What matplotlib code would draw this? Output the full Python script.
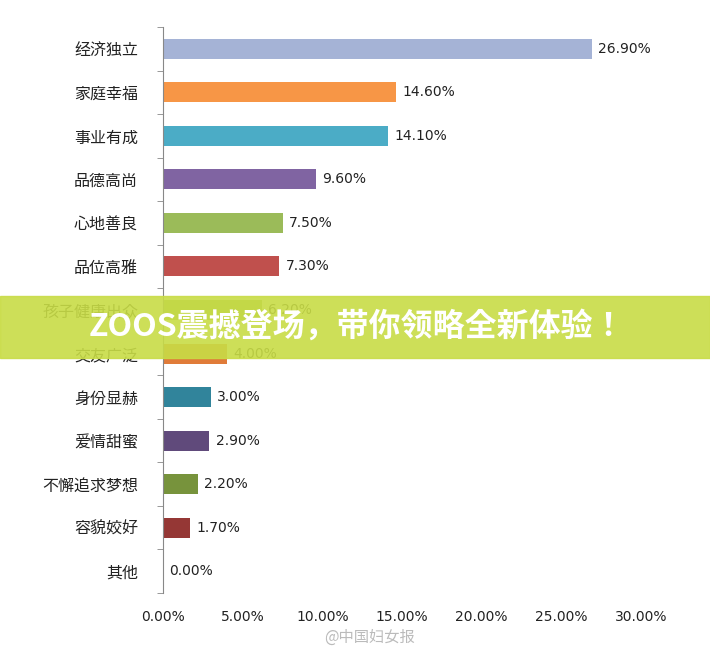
import matplotlib
matplotlib.use("Agg")
import matplotlib.pyplot as plt
from matplotlib import font_manager as fm
from matplotlib.patches import Rectangle

categories = ["经济独立", "家庭幸福", "事业有成", "品德高尚", "心地善良", "品位高雅",
              "孩子健康出众", "交友广泛", "身份显赫", "爱情甜蜜", "不懈追求梦想", "容貌姣好", "其他"]
values = [26.9, 14.6, 14.1, 9.6, 7.5, 7.3, 6.2, 4.0, 3.0, 2.9, 2.2, 1.7, 0.0]
colors = ["#A5B3D6", "#F79646", "#4BACC6", "#8064A2", "#9BBB59", "#C0504D",
          "#9BBB59", "#E07B39", "#31849B", "#604A7B", "#77933C", "#953735", "#888888"]
xticks = [0, 5, 10, 15, 20, 25, 30]

cjk = None
for f in fm.findSystemFonts():
    if "CJK" in f:
        try:
            fm.fontManager.addfont(f)
        except Exception:
            pass
names = {x.name for x in fm.fontManager.ttflist}
for cand in ["Noto Sans CJK SC", "Noto Sans CJK JP", "Noto Sans CJK TC", "Noto Sans CJK KR"]:
    if cand in names:
        cjk = cand
        break
plt.rcParams["font.family"] = [cjk or "DejaVu Sans", "DejaVu Sans"]
num_font = "DejaVu Sans"

fig = plt.figure(figsize=(7.1, 6.55), dpi=100)
ax = fig.add_axes([0.2296, 0.0947, 0.6732, 0.8641])
ys = list(range(len(categories)))
ax.barh(ys, values, height=0.46, color=colors)
for y, v in zip(ys, values):
    ax.text(v + 0.4, y, f"{v:.2f}%", va="center", ha="left", fontsize=10,
            color="#222222", family=num_font)
ax.set_ylim(len(categories) - 0.5, -0.5)
ax.set_xlim(0, 30)
ax.set_yticks(ys)
ax.set_yticklabels(categories, fontsize=11.5, color="#222222")
ax.set_xticks(xticks)
ax.set_xticklabels([f"{t:.2f}%" for t in xticks], fontsize=10, color="#222222", family=num_font)
for s in ["top", "right", "bottom"]:
    ax.spines[s].set_visible(False)
ax.spines["left"].set_color("#888888")
ax.tick_params(axis="x", length=0, pad=12)
ax.set_yticks([i - 0.5 for i in range(len(categories) + 1)], minor=True)
ax.tick_params(axis="y", which="minor", length=4, color="#888888")
ax.tick_params(axis="y", which="major", length=0, pad=18)

fig.patches.append(Rectangle((0, 1 - 358 / 655), 1, 62 / 655, transform=fig.transFigure,
                             color="#C8DC46", alpha=0.9, zorder=10))
fig.text(0.503, 1 - 327 / 655, "ZOOS震撼登场，带你领略全新体验！", ha="center", va="center",
         fontsize=23, fontweight="bold", color="white", zorder=11)
fig.text(0.52, 1 - 637 / 655, "@中国妇女报", ha="center", va="center", fontsize=11,
         color="#BBBBBB", zorder=11)
fig.savefig("out.png", dpi=100)
